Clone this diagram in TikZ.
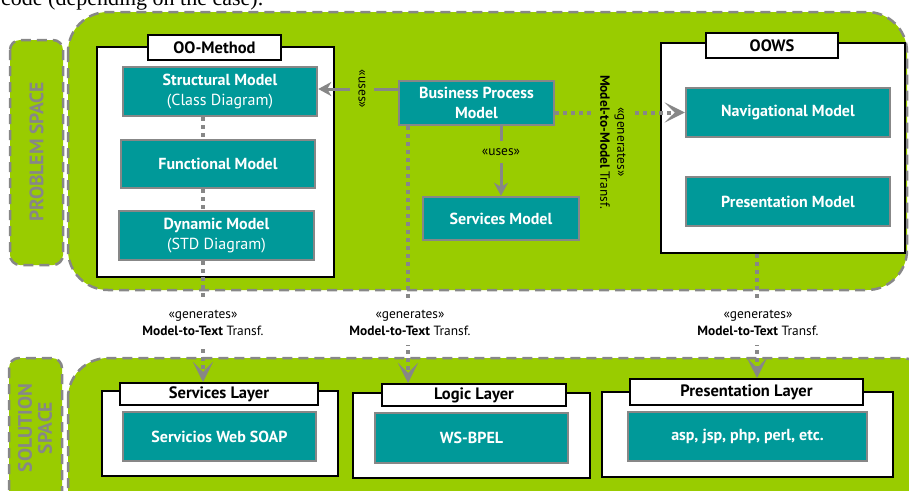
\documentclass[tikz,border=0pt]{standalone}
\usepackage{fontspec}
\setmainfont{PT Sans}
\newfontfamily\serifbody{Liberation Serif}
\usetikzlibrary{arrows.meta,calc}
\definecolor{regiongreen}{HTML}{99CC00}
\definecolor{boxteal}{HTML}{009999}
\definecolor{linegray}{HTML}{878787}

\begin{document}
\begin{tikzpicture}[x=1pt,y=-1pt,
  region/.style={draw=linegray,line width=2.5pt,dash pattern=on 10pt off 6pt,fill=regiongreen},
  modelbox/.style={draw=linegray,line width=2.5pt,fill=boxteal,text=white,
    font=\bfseries\fontsize{16}{20.5}\selectfont,align=center,inner sep=0pt},
  container/.style={draw=black,line width=2pt,fill=white,inner sep=0pt},
  tabbox/.style={draw=black,line width=2pt,fill=white,inner sep=0pt,
    font=\bfseries\fontsize{16.5}{18}\selectfont},
  flow/.style={draw=linegray,line width=3pt,-{Stealth[length=13pt,width=14pt,inset=4pt]}},
  gen/.style={draw=linegray,line width=4pt,dash pattern=on 4pt off 4pt,
    -{Stealth[length=20pt,width=20pt,inset=10pt]}},
  link/.style={draw=linegray,line width=4pt,dash pattern=on 4pt off 4pt},
  note/.style={font=\fontsize{13.4}{17}\selectfont,align=center,inner sep=0pt},
  spacelabel/.style={text=linegray,font=\bfseries\fontsize{19.5}{20}\selectfont,align=center,inner sep=0pt}
]
\useasboundingbox (0,0) rectangle (909,490);
\clip (0,0) rectangle (909,490);

% running text above the figure
\node[anchor=base west,inner sep=0pt,font=\serifbody\fontsize{22}{26}\selectfont] (intro) at (1,5) {code (depending on the case).};

% space regions
\draw[region,rounded corners=10pt] (10,40) rectangle (63,265);
\node[spacelabel,rotate=90] (problbl) at (36.5,152) {PROBLEM SPACE};
\draw[region,rounded corners=40pt] (68,12) rectangle (907,290);

\draw[region,rounded corners=10pt] (9,358) rectangle (62,530);
\node[spacelabel,rotate=90] (sollbl) at (35,428) {SOLUTION\\SPACE};
\draw[region,rounded corners=40pt] (68,358) rectangle (940,540);

% OO-Method
\node[container,minimum width=237pt,minimum height=230pt] (oom) at (215.5,162) {};
\node[tabbox,minimum width=133pt,minimum height=25pt] (oomtab) at (214.5,47.5) {OO-Method};
\node[modelbox,minimum width=194pt,minimum height=49pt] (struct) at (220,91.5) {Structural Model\\{\mdseries (Class Diagram)}};
\node[modelbox,minimum width=194pt,minimum height=48pt] (func) at (218,164) {Functional Model};
\node[modelbox,minimum width=195pt,minimum height=49pt] (dyn) at (216.5,235.5) {Dynamic Model\\{\mdseries (STD Diagram)}};

% OOWS
\node[container,minimum width=244pt,minimum height=210pt] (oows) at (783,148) {};
\node[tabbox,minimum width=132pt,minimum height=25pt] (oowstab) at (772,45.5) {OOWS};
\node[modelbox,minimum width=204pt,minimum height=49pt] (nav) at (788,112.5) {Navigational Model};
\node[modelbox,minimum width=204pt,minimum height=49pt] (presm) at (788,201.5) {Presentation Model};

% business process and services
\node[modelbox,minimum width=155pt,minimum height=44pt] (bpm) at (476.5,103) {Business Process\\Model};
\node[modelbox,minimum width=156pt,minimum height=43pt] (svcm) at (501,218.5) {Services Model};

% solution layers
\node[container,minimum width=236pt,minimum height=85pt] (svclay) at (220,433.5) {};
\node[tabbox,minimum width=198pt,minimum height=22pt] (svctab) at (219,394) {Services Layer};
\node[modelbox,minimum width=193pt,minimum height=49pt] (soap) at (219.5,436.5) {Servicios Web SOAP};

\node[container,minimum width=237pt,minimum height=85pt] (loglay) at (471.5,435.5) {};
\node[tabbox,minimum width=184pt,minimum height=22pt] (logtab) at (474,395) {Logic Layer};
\node[modelbox,minimum width=193pt,minimum height=50pt] (bpel) at (471.5,438) {WS-BPEL};

\node[container,minimum width=291pt,minimum height=85pt] (preslay) at (747.5,434.5) {};
\node[tabbox,minimum width=233pt,minimum height=26pt] (prestab) at (746.5,392) {Presentation Layer};
\node[modelbox,minimum width=239pt,minimum height=49pt] (web) at (747.5,436.5) {asp, jsp, php, perl, etc.};

% connector columns and rows
\coordinate (colx) at (203,0);
\coordinate (bpx) at (408,0);
\coordinate (oox) at (757,0);
\coordinate (usey) at (0,89);

% inside OO-Method
\draw[link] (struct.south -| colx) -- (func.north -| colx);
\draw[link] (func.south -| colx) -- (dyn.north -| colx);

% uses relations
\draw[flow] (bpm.west |- usey) -- (struct.east |- usey);
\node[note,rotate=-90,fill=regiongreen,inner xsep=2pt,inner ysep=8pt] (uses1) at (362,89) {«uses»};
\draw[flow] (bpm.south -| svcm.north) -- (svcm.north);
\node[note,fill=regiongreen,inner xsep=2pt,inner ysep=7pt] (uses2) at (501,152) {«uses»};

% model-to-model transformation
\draw[gen] (bpm.east |- nav.west) -- (nav.west);
\node[note,rotate=-90,fill=regiongreen,inner xsep=2pt,inner ysep=7pt] (m2m) at (613,142) {«generates»\\\textbf{Model-to-Model} Transf.};

% model-to-text transformations
\draw[gen] (dyn.south -| colx) -- (svctab.north -| colx);
\node[note,fill=white,inner xsep=2pt,inner ysep=9pt] (m2t1) at (203,323) {«generates»\\\textbf{Model-to-Text} Transf.};
\draw[gen] (bpm.south -| bpx) -- (logtab.north -| bpx);
\node[note,fill=white,inner xsep=2pt,inner ysep=9pt] (m2t2) at (410,323) {«generates»\\\textbf{Model-to-Text} Transf.};
\draw[gen] (oows.south -| oox) -- (prestab.north -| oox);
\node[note,fill=white,inner xsep=2pt,inner ysep=9pt] (m2t3) at (758,323) {«generates»\\\textbf{Model-to-Text} Transf.};
\end{tikzpicture}
\end{document}
